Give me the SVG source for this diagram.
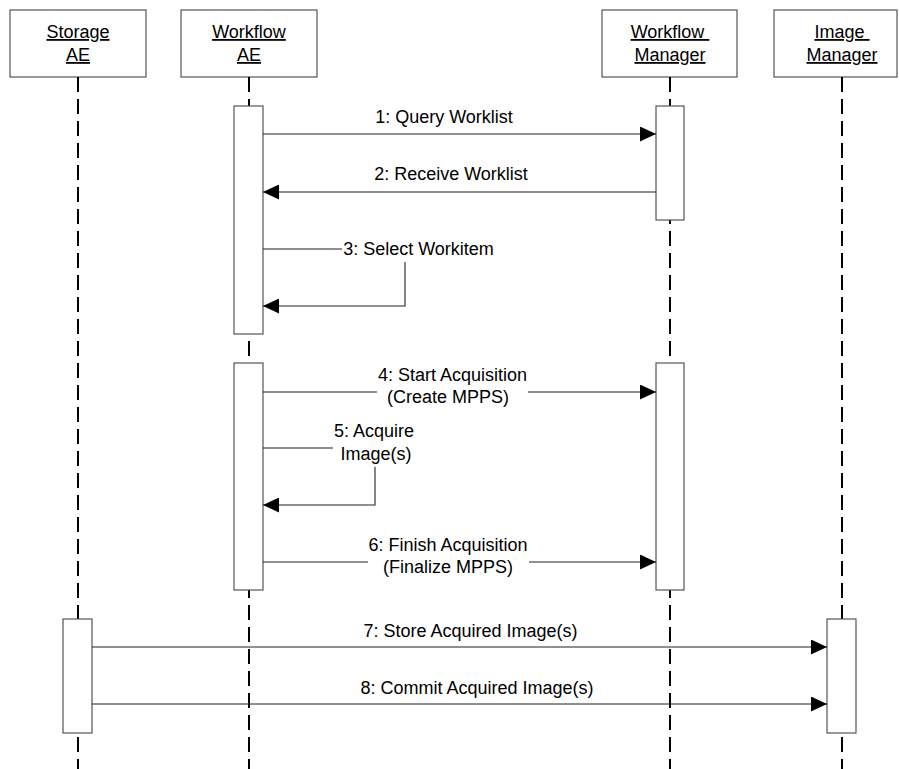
<svg xmlns="http://www.w3.org/2000/svg" width="899" height="769" viewBox="0 0 899 769">
<style>
text{font-family:"Liberation Sans",Arial,sans-serif;font-size:18px;fill:#000;text-anchor:middle}
.hdr{fill:#fff;stroke:#555;stroke-width:1.2}
.life{stroke:#000;stroke-width:2;stroke-dasharray:15 7;fill:none}
.act{fill:#fff;stroke:#555;stroke-width:1.2}
.msg{stroke:#222;stroke-width:1.1;fill:none}
.u{text-decoration:underline}
</style>
<defs>
<marker id="ah" viewBox="0 0 16 15" refX="16" refY="7.5" markerWidth="16" markerHeight="15" markerUnits="userSpaceOnUse" orient="auto">
<path d="M0,0 L16,7.5 L0,15 Z" fill="#000"/>
</marker>
</defs>
<rect width="899" height="769" fill="#fff"/>
<g id="storage-ae">
<rect class="hdr" x="10" y="10" width="136" height="67"/>
<text class="u" x="78" y="38">Storage</text>
<text class="u" x="78" y="61">AE</text>
<line class="life" x1="78" y1="77" x2="78" y2="769"/>
<rect class="act" x="63" y="619" width="29" height="114"/>
</g>
<g id="workflow-ae">
<rect class="hdr" x="181" y="10" width="136" height="67"/>
<text class="u" x="249" y="38">Workflow</text>
<text class="u" x="249" y="61">AE</text>
<line class="life" x1="249" y1="77" x2="249" y2="769"/>
<rect class="act" x="234" y="106" width="29" height="228"/>
<rect class="act" x="234" y="363" width="29" height="227"/>
</g>
<g id="workflow-manager">
<rect class="hdr" x="602" y="10" width="135" height="67"/>
<text class="u" x="670" y="38" xml:space="preserve">Workflow </text>
<text class="u" x="670" y="61">Manager</text>
<line class="life" x1="670" y1="77" x2="670" y2="769"/>
<rect class="act" x="656" y="106" width="28" height="114"/>
<rect class="act" x="656" y="363" width="28" height="227"/>
</g>
<g id="image-manager">
<rect class="hdr" x="774" y="10" width="123" height="67"/>
<text class="u" x="842" y="38" xml:space="preserve">Image </text>
<text class="u" x="842" y="61">Manager</text>
<line class="life" x1="842" y1="77" x2="842" y2="769"/>
<rect class="act" x="827" y="619" width="29" height="114"/>
</g>
<g id="connectors">
<line class="msg" x1="263" y1="134" x2="656" y2="134" marker-end="url(#ah)"/>
<text x="444" y="123">1: Query Worklist</text>
<line class="msg" x1="656" y1="192" x2="263" y2="192" marker-end="url(#ah)"/>
<text x="451" y="180">2: Receive Worklist</text>
<line class="msg" x1="263" y1="249" x2="342" y2="249"/>
<path class="msg" d="M405,262 V306 H263" marker-end="url(#ah)"/>
<text x="418.5" y="255">3: Select Workitem</text>
<line class="msg" x1="263" y1="392" x2="377" y2="392"/>
<line class="msg" x1="528" y1="392" x2="656" y2="392" marker-end="url(#ah)"/>
<text x="452.5" y="381">4: Start Acquisition</text>
<text x="448" y="403">(Create MPPS)</text>
<line class="msg" x1="263" y1="448" x2="333" y2="448"/>
<path class="msg" d="M375,467 V505 H263" marker-end="url(#ah)"/>
<text x="374" y="437">5: Acquire</text>
<text x="376" y="460">Image(s)</text>
<line class="msg" x1="263" y1="562" x2="368" y2="562"/>
<line class="msg" x1="529" y1="562" x2="656" y2="562" marker-end="url(#ah)"/>
<text x="448" y="551">6: Finish Acquisition</text>
<text x="448" y="573">(Finalize MPPS)</text>
<line class="msg" x1="92" y1="647" x2="827" y2="647" marker-end="url(#ah)"/>
<text x="470.5" y="637">7: Store Acquired Image(s)</text>
<line class="msg" x1="92" y1="704" x2="827" y2="704" marker-end="url(#ah)"/>
<text x="477" y="694">8: Commit Acquired Image(s)</text>
</g>
</svg>
